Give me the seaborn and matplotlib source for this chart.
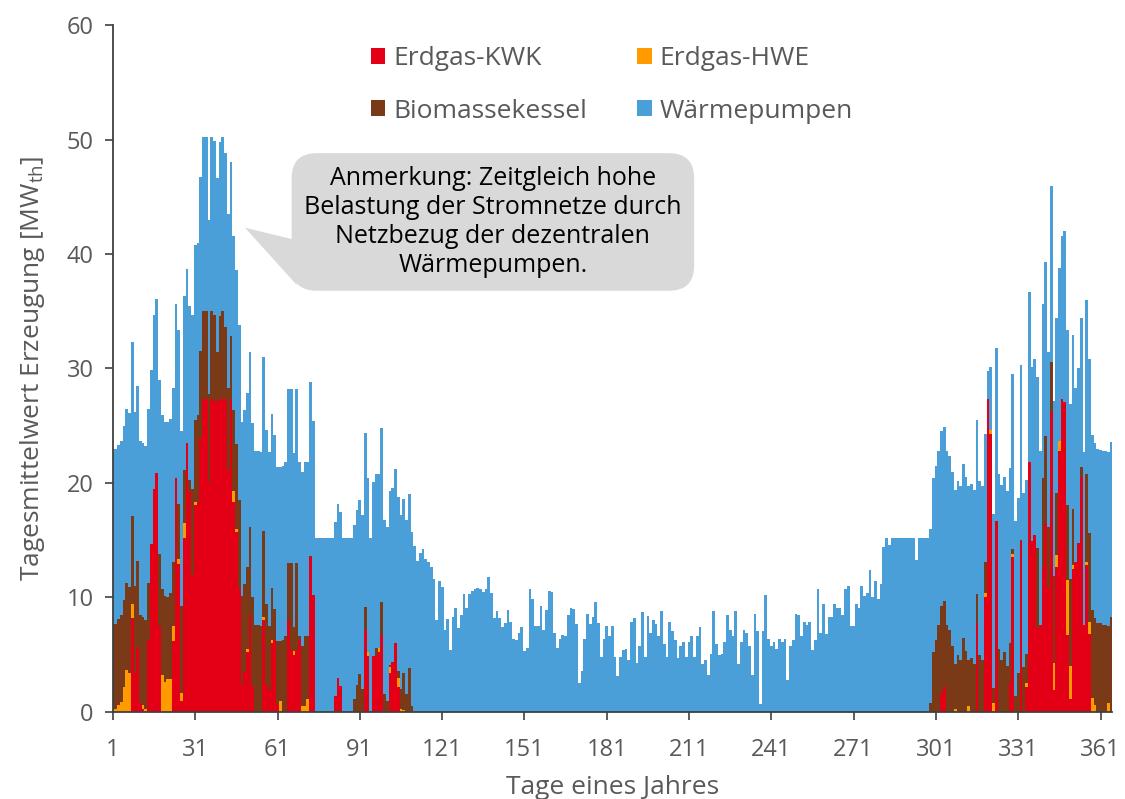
import numpy as np
import pandas as pd
import matplotlib
matplotlib.use("Agg")
import matplotlib.pyplot as plt
import seaborn as sns
from matplotlib.patches import Patch, Polygon

# ---------------- data ----------------
days = list(range(1, 366))

erdgas_kwk = [
    0, 0, 0, 0, 0, 0, 0, 8.2, 3.4, 5.7,             # 1-10
    0.8, 0.3, 0, 6.3, 14.7, 19.5, 20.9, 7.5, 0, 0,  # 11-20
    0, 0, 6.2, 20.4, 12.9, 1.0, 15.2, 23.5, 19.3, 12.0,
    18.1, 18.3, 23.9, 27.3, 27.3, 20.1, 27.3, 27.2, 27.2, 27.3,
    27.3, 27.3, 21.1, 27.3, 18.3, 15.7, 10.8, 2.4, 3.5, 5.2,
    8.5, 2.3, 0, 0, 0, 8.0, 2.4, 1.9, 6.0, 6.3,
    0.6, 0, 0, 0, 8.0, 5.4, 5.0, 5.4, 6.3, 0,
    0, 0, 13.6, 10.2, 0, 0, 0, 0, 0, 0,
    0, 1.4, 3.0, 2.3, 0, 0, 0, 0, 0, 0,
    0, 0, 7.2, 4.9, 0, 4.9, 5.0, 5.2, 6.7, 0,
    0, 3.4, 4.4, 6.0, 2.2, 0, 0, 0, 0, 0,           # 101-110
    0, 0, 0, 0, 0, 0, 0, 0, 0, 0,
    0, 0, 0, 0, 0, 0, 0, 0, 0, 0,
    0, 0, 0, 0, 0, 0, 0, 0, 0, 0,
    0, 0, 0, 0, 0, 0, 0, 0, 0, 0,
    0, 0, 0, 0, 0, 0, 0, 0, 0, 0,                   # 151-160
    0, 0, 0, 0, 0, 0, 0, 0, 0, 0,
    0, 0, 0, 0, 0, 0, 0, 0, 0, 0,
    0, 0, 0, 0, 0, 0, 0, 0, 0, 0,
    0, 0, 0, 0, 0, 0, 0, 0, 0, 0,
    0, 0, 0, 0, 0, 0, 0, 0, 0, 0,                   # 201-210
    0, 0, 0, 0, 0, 0, 0, 0, 0, 0,
    0, 0, 0, 0, 0, 0, 0, 0, 0, 0,
    0, 0, 0, 0, 0, 0, 0, 0, 0, 0,
    0, 0, 0, 0, 0, 0, 0, 0, 0, 0,
    0, 0, 0, 0, 0, 0, 0, 0, 0, 0,                   # 251-260
    0, 0, 0, 0, 0, 0, 0, 0, 0, 0,
    0, 0, 0, 0, 0, 0, 0, 0, 0, 0,
    0, 0, 0, 0, 0, 0, 0, 0, 0, 0,
    0, 0, 0, 0, 0, 0, 0, 0, 0, 0,
    0, 0, 1.7, 2.2, 0, 0, 0, 0, 0, 0,               # 301-310
    0, 0, 0, 0, 0, 7.8, 0, 0, 10.0, 27.3,
    24.3, 0, 16.7, 0.1, 0, 0, 0, 2.6, 13.5, 0,
    0, 14.9, 0, 2.2, 21.8, 14.9, 15.5, 7.3, 7.6, 12.7,
    16.5, 10.8, 26.2, 1.9, 12.7, 22.8, 27.3, 27.1, 6.7, 1.1,
    12.5, 13.1, 14.8, 20.5, 7.6, 12.8, 6.8, 0, 0, 0,
    0, 0, 0, 0, 0,                                  # 361-365
]

erdgas_hwe = [
    0.1, 0.3, 0.6, 0.9, 2.2, 3.7, 3.4, 1.2, 0, 0,
    0, 0.3, 0.3, 0, 0, 0, 0, 0, 3.2, 2.6,
    2.9, 2.9, 1.3, 0, 0.5, 0.7, 1.3, 0, 0, 0,
    0.2, 0, 0, 0, 0, 0, 0, 0, 0, 0,
    0, 0, 0, 0, 1.0, 0.3, 0, 0, 0, 0.3,
    0, 0, 0, 0, 0, 0.3, 0, 0, 0.3, 0,
    0, 1.0, 0, 0, 0, 0, 0.3, 0, 0, 0.5,
    0.5, 1.1, 0, 0, 0, 0, 0, 0, 0, 0,
    0, 0, 0, 0, 0, 0, 0, 0, 0, 0,
    0, 0, 0, 0.3, 0, 0, 0, 0.4, 0, 0,
    0, 0.5, 0, 0, 0.8, 0.3, 0.2, 0, 0, 0,           # 101-110
    0, 0, 0, 0, 0, 0, 0, 0, 0, 0,
    0, 0, 0, 0, 0, 0, 0, 0, 0, 0,
    0, 0, 0, 0, 0, 0, 0, 0, 0, 0,
    0, 0, 0, 0, 0, 0, 0, 0, 0, 0,
    0, 0, 0, 0, 0, 0, 0, 0, 0, 0,                   # 151-160
    0, 0, 0, 0, 0, 0, 0, 0, 0, 0,
    0, 0, 0, 0, 0, 0, 0, 0, 0, 0,
    0, 0, 0, 0, 0, 0, 0, 0, 0, 0,
    0, 0, 0, 0, 0, 0, 0, 0, 0, 0,
    0, 0, 0, 0, 0, 0, 0, 0, 0, 0,                   # 201-210
    0, 0, 0, 0, 0, 0, 0, 0, 0, 0,
    0, 0, 0, 0, 0, 0, 0, 0, 0, 0,
    0, 0, 0, 0, 0, 0, 0, 0, 0, 0,
    0, 0, 0, 0, 0, 0, 0, 0, 0, 0,
    0, 0, 0, 0, 0, 0, 0, 0, 0, 0,                   # 251-260
    0, 0, 0, 0, 0, 0, 0, 0, 0, 0,
    0, 0, 0, 0, 0, 0, 0, 0, 0, 0,
    0, 0, 0, 0, 0, 0, 0, 0, 0, 0,
    0, 0, 0, 0, 0, 0, 0, 0, 0, 0,
    0, 0, 0, 0, 0, 0, 0, 0.3, 0, 0,                 # 301-310
    0, 0, 0.5, 0, 0, 0, 0, 0, 0.4, 0,
    0.3, 0.8, 0, 0, 0, 0, 0, 0, 0.3, 0,
    0, 0, 0, 0.3, 0, 0, 0, 0, 0, 0,
    0, 0, 0, 2.4, 1.0, 0.9, 0, 0, 4.8, 2.9,
    0.3, 0, 0, 0, 0, 0.3, 1.1, 1.2, 0.6, 0,
    0, 0, 0, 0.75, 0,
]

biomassekessel = [
    7.6, 7.4, 7.5, 7.6, 7.6, 7.6, 7.5, 7.7, 7.6, 7.5,
    7.7, 7.7, 7.7, 5.0, 0, 0, 0, 6.3, 7.5, 7.5,
    7.1, 7.5, 5.6, 0, 4.8, 7.6, 4.6, 0, 1.0, 7.5,
    7.2, 7.6, 7.6, 7.7, 7.7, 7.7, 7.7, 7.5, 4.2, 7.3,
    7.7, 6.3, 7.2, 5.5, 7.1, 7.4, 7.7, 7.7, 7.7, 7.2,
    7.7, 7.7, 7.6, 7.6, 7.5, 7.5, 7.0, 5.6, 4.5, 2.7,
    5.6, 5.2, 6.3, 6.6, 5.0, 7.6, 2.1, 7.6, 0.3, 5.3,
    6.1, 5.5, 0, 0, 0, 0, 0, 0, 0, 0,
    0, 0, 0, 0, 0, 0, 0, 0, 1.1, 2.4,
    3.3, 2.0, 2.0, 0, 0, 0, 0.6, 0, 2.9, 1.6,
    1.0, 0.2, 0, 0, 0.6, 1.7, 3.2, 1.6, 3.8, 0.5,   # 101-110
    0, 0, 0, 0, 0, 0, 0, 0, 0, 0,
    0, 0, 0, 0, 0, 0, 0, 0, 0, 0,
    0, 0, 0, 0, 0, 0, 0, 0, 0, 0,
    0, 0, 0, 0, 0, 0, 0, 0, 0, 0,
    0, 0, 0, 0, 0, 0, 0, 0, 0, 0,                   # 151-160
    0, 0, 0, 0, 0, 0, 0, 0, 0, 0,
    0, 0, 0, 0, 0, 0, 0, 0, 0, 0,
    0, 0, 0, 0, 0, 0, 0, 0, 0, 0,
    0, 0, 0, 0, 0, 0, 0, 0, 0, 0,
    0, 0, 0, 0, 0, 0, 0, 0, 0, 0,                   # 201-210
    0, 0, 0, 0, 0, 0, 0, 0, 0, 0,
    0, 0, 0, 0, 0, 0, 0, 0, 0, 0,
    0, 0, 0, 0, 0, 0, 0, 0, 0, 0,
    0, 0, 0, 0, 0, 0, 0, 0, 0, 0,
    0, 0, 0, 0, 0, 0, 0, 0, 0, 0,                   # 251-260
    0, 0, 0, 0, 0, 0, 0, 0, 0, 0,
    0, 0, 0, 0, 0, 0, 0, 0, 0, 0,
    0, 0, 0, 0, 0, 0, 0, 0, 0, 0,
    0, 0, 0, 0, 0, 0, 0, 0, 0.75, 5.2,
    6.3, 7.6, 7.6, 7.5, 7.6, 7.2, 5.8, 3.9, 5.0, 4.5,  # 301-310
    6.5, 5.3, 4.0, 4.7, 4.2, 2.5, 5.0, 4.5, 2.7, 0,
    0, 1.3, 0, 5.4, 4.5, 5.2, 4.0, 3.4, 0.4, 1.4,
    3.4, 0.1, 3.9, 2.6, 0, 0, 0, 7.0, 0, 7.7,
    7.6, 5.4, 4.4, 7.6, 5.4, 0, 0, 0, 6.6, 7.6,
    4.9, 0, 0, 0.9, 0, 7.7, 7.7, 7.7, 7.6, 7.8,
    7.8, 7.6, 7.6, 6.8, 8.3,
]

waermepumpen = [
    15.3, 15.3, 15.2, 15.2, 15.2, 15.2, 15.2, 15.2, 15.2, 15.3,
    15.2, 15.2, 15.2, 15.2, 15.2, 15.2, 15.2, 15.2, 15.2, 15.2,
    15.3, 15.2, 15.2, 15.2, 15.2, 15.2, 15.2, 15.2, 15.2, 15.2,
    15.3, 15.1, 15.2, 15.2, 15.2, 15.2, 15.2, 15.2, 15.2, 15.2,
    15.2, 15.2, 15.2, 15.2, 15.2, 15.2, 15.3, 15.2, 15.2, 15.2,
    15.2, 15.2, 15.2, 15.2, 15.2, 15.2, 15.2, 15.2, 15.2, 15.2,
    15.2, 15.2, 15.2, 15.2, 15.2, 15.2, 15.2, 15.2, 15.2, 15.2,
    15.2, 15.2, 15.2, 15.2, 15.2, 15.2, 15.2, 15.2, 15.2, 15.2,
    15.2, 15.2, 15.2, 15.2, 15.2, 15.2, 15.2, 15.2, 15.2, 15.2,
    15.2, 15.2, 15.2, 15.2, 15.2, 15.2, 15.2, 15.2, 15.2, 15.2,
    15.2, 15.2, 15.2, 15.2, 15.2, 15.2, 15.2, 15.2, 15.2, 15.2,  # 101-110
    14.5, 13.2, 13.9, 14.2, 13.4, 13.1, 12.7, 11.6, 8.0, 11.4,
    10.9, 7.2, 8.1, 5.4, 8.3, 9.1, 7.3, 8.5, 10.3, 9.1,
    10.3, 10.6, 10.7, 10.8, 10.7, 10.5, 10.7, 11.8, 10.4, 8.2,
    8.8, 8.2, 7.4, 7.8, 8.9, 7.9, 6.4, 6.3, 6.9, 7.4,
    5.3, 5.6, 10.7, 9.9, 7.5, 7.5, 9.3, 7.2, 8.9, 10.6,        # 151-160
    10.5, 6.9, 5.6, 6.4, 6.7, 6.6, 8.5, 9.1, 9.0, 7.7,
    2.5, 3.6, 6.4, 8.6, 7.7, 8.3, 9.6, 7.8, 4.8, 6.4,
    7.5, 6.6, 7.5, 4.8, 3.1, 4.8, 5.4, 5.5, 4.5, 7.9,
    8.2, 4.3, 5.8, 8.7, 4.8, 8.4, 6.9, 8.0, 7.7, 6.6,
    8.8, 5.9, 4.8, 7.9, 7.1, 6.3, 4.7, 5.8, 6.1, 4.8,          # 201-210
    6.1, 6.6, 4.8, 6.6, 7.4, 4.2, 4.5, 3.2, 5.1, 8.8,
    5.9, 5.0, 5.1, 6.1, 8.5, 7.2, 6.6, 8.8, 4.2, 6.1,
    7.2, 6.9, 5.8, 3.2, 8.6, 7.1, 0.7, 7.1, 10.2, 6.4,
    5.8, 6.1, 5.5, 6.4, 6.1, 6.4, 2.8, 5.8, 6.3, 8.6,
    8.5, 6.6, 7.9, 7.6, 7.9, 5.4, 6.3, 10.7, 6.9, 9.4,         # 251-260
    6.8, 8.3, 8.3, 9.4, 9.1, 9.1, 8.5, 10.7, 11.0, 7.5,
    7.5, 9.4, 9.1, 11.0, 10.1, 10.4, 12.4, 10.0, 11.4, 9.9,
    11.2, 14.4, 15.2, 14.6, 15.2, 15.2, 15.2, 15.2, 15.2, 15.2,
    15.2, 15.2, 15.2, 13.3, 15.2, 15.2, 15.2, 15.2, 15.2, 15.2,
    15.2, 15.2, 15.2, 15.2, 15.2, 15.2, 15.2, 15.2, 15.2, 15.2,  # 301-310
    15.2, 15.2, 15.2, 15.2, 15.2, 15.2, 15.2, 15.2, 11.2, 2.5,
    5.5, 15.2, 15.1, 15.3, 15.3, 15.3, 15.3, 15.3, 15.3, 15.3,
    15.3, 15.3, 15.2, 15.2, 14.9, 15.2, 15.3, 15.0, 15.2, 15.2,
    15.2, 15.2, 15.3, 15.3, 15.3, 15.1, 14.3, 14.9, 15.3, 15.3,
    15.2, 15.2, 15.2, 13.0, 15.1, 15.2, 15.2, 15.3, 15.3, 15.2,
    15.1, 15.2, 15.2, 15.2, 15.3,
]

series_names = ["Erdgas-KWK", "Erdgas-HWE", "Biomassekessel", "Wärmepumpen"]
series_values = [erdgas_kwk, erdgas_hwe, biomassekessel, waermepumpen]
palette = {
    "Erdgas-KWK": "#E30016",
    "Erdgas-HWE": "#FF9A00",
    "Biomassekessel": "#7A3A17",
    "Wärmepumpen": "#4A9FD8",
}
x_ticks = [1, 31, 61, 91, 121, 151, 181, 211, 241, 271, 301, 331, 361]
y_ticks = [0, 10, 20, 30, 40, 50, 60]
note_text = ("Anmerkung: Zeitgleich hohe\nBelastung der Stromnetze durch\n"
             "Netzbezug der dezentralen\nWärmepumpen.")

# ---------------- long-form table ----------------
df = pd.DataFrame({
    "Tag": np.tile(days, len(series_names)),
    "Quelle": np.repeat(series_names, len(days)),
    "Wert": np.concatenate([np.asarray(v, float) for v in series_values]),
})

# ---------------- styling ----------------
sns.set_theme(style="white")
plt.rcParams["font.family"] = ["Open Sans", "DejaVu Sans"]
plt.rcParams["mathtext.default"] = "regular"
grey = "#595959"

fig = plt.figure(figsize=(11.25, 7.99), dpi=100)
ax = fig.add_axes([0.1004, 0.1089, 0.8876, 0.8598])

# seaborn stacks the last hue level at the bottom
sns.histplot(
    data=df, x="Tag", weights="Wert", hue="Quelle",
    hue_order=series_names[::-1], multiple="stack", discrete=True,
    shrink=1.0, palette=palette, alpha=1, linewidth=0,
    legend=False, ax=ax,
)

ax.set_xlim(1, 365)
ax.set_ylim(0, 60)
ax.set_xticks(x_ticks)
ax.set_yticks(y_ticks)
sns.despine(ax=ax)
for s in ("left", "bottom"):
    ax.spines[s].set_color("#404040")
    ax.spines[s].set_linewidth(1.3)
ax.tick_params(axis="both", bottom=True, left=True, colors="#404040",
               labelcolor=grey, labelsize=17, direction="out",
               length=6, width=1.2)
ax.tick_params(axis="x", pad=13)
ax.tick_params(axis="y", pad=8)
ax.set_xlabel("Tage eines Jahres", fontsize=19, color=grey, labelpad=9)
ax.set_ylabel("Tagesmittelwert Erzeugung [MW$_{th}$]", fontsize=19,
              color=grey, labelpad=14)
ax.grid(False)

# legend
handles = [Patch(facecolor=palette[n], edgecolor="none", label=n)
           for n in ["Erdgas-KWK", "Biomassekessel", "Erdgas-HWE", "Wärmepumpen"]]
leg = ax.legend(handles=handles, ncol=2, loc="upper left",
                bbox_to_anchor=(0.2345, 1.004), frameon=False, fontsize=19,
                handlelength=0.55, handleheight=0.55, handletextpad=0.3,
                columnspacing=1.9, labelspacing=1.05)
for t in leg.get_texts():
    t.set_color(grey)

# callout
pointer = Polygon([(68, 41.2), (68, 37.3), (49.1, 42.3)], closed=True,
                  facecolor="#D9D9D9", edgecolor="none", zorder=4)
ax.add_patch(pointer)
ax.text(139.5, 42.8, note_text, ha="center", va="center", fontsize=18,
        color="black", linespacing=1.22, zorder=5,
        bbox=dict(boxstyle="round,pad=0.5,rounding_size=1.0",
                  facecolor="#D9D9D9", edgecolor="none"))

fig.savefig("out.png", dpi=100)
